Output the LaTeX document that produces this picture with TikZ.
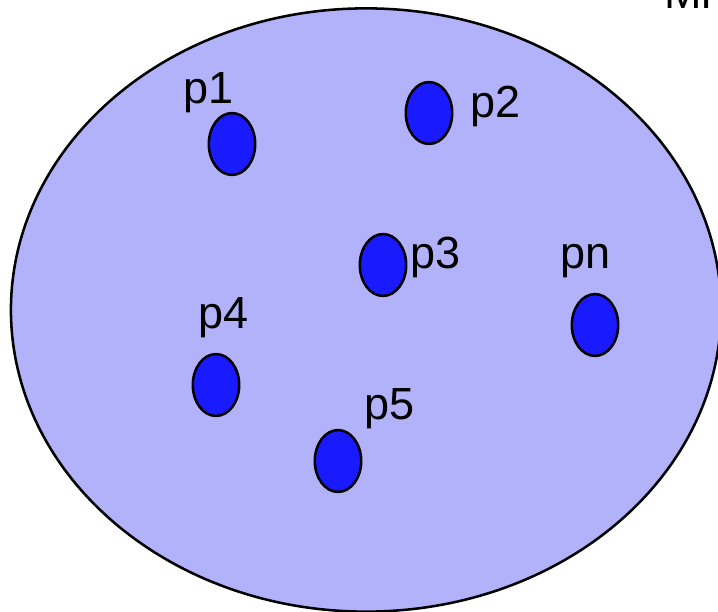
\documentclass[tikz,border=0pt]{standalone}
\usepackage{fontspec}
\setmainfont{Liberation Sans}
\usetikzlibrary{shapes.geometric}
\definecolor{fondbleu}{RGB}{178,178,250}
\definecolor{pointbleu}{RGB}{26,26,255}
\tikzset{
  point/.style={ellipse,draw,line width=1.8pt,fill=pointbleu,minimum width=33pt,minimum height=44pt,inner sep=0pt},
  etiq/.style={font=\fontsize{32}{38}\selectfont,inner sep=0pt,anchor=base west}
}
\begin{document}
\begin{tikzpicture}[x=0.025cm,y=-0.025cm]
			\useasboundingbox (0,0) rectangle (718,612);
			\clip (0,0) rectangle (718,612);
			%Ensemble
			\node[ellipse,draw,line width=1.8pt,fill=fondbleu,minimum width=505pt,minimum height=429pt,inner sep=0pt] (E) at (366,310) {};
			\node[etiq] (M) at (664,8) {Mn};
			%Points
			\node[point] (P1) at (232,144) {};
			\node[point] (P2) at (429,113) {};
			\node[point] (P3) at (383,265) {};
			\node[point] (P4) at (216,385) {};
			\node[point] (P5) at (338,461) {};
			\node[point] (Pn) at (595,325) {};
			%Etiquettes
			\node[etiq] (L1) at (183,103) {p1};
			\node[etiq] (L2) at (470,117) {p2};
			\node[etiq] (L3) at (410,268) {p3};
			\node[etiq] (Ln) at (560,268) {pn};
			\node[etiq] (L4) at (198,328) {p4};
			\node[etiq] (L5) at (364,419) {p5};
		\end{tikzpicture}
\end{document}
